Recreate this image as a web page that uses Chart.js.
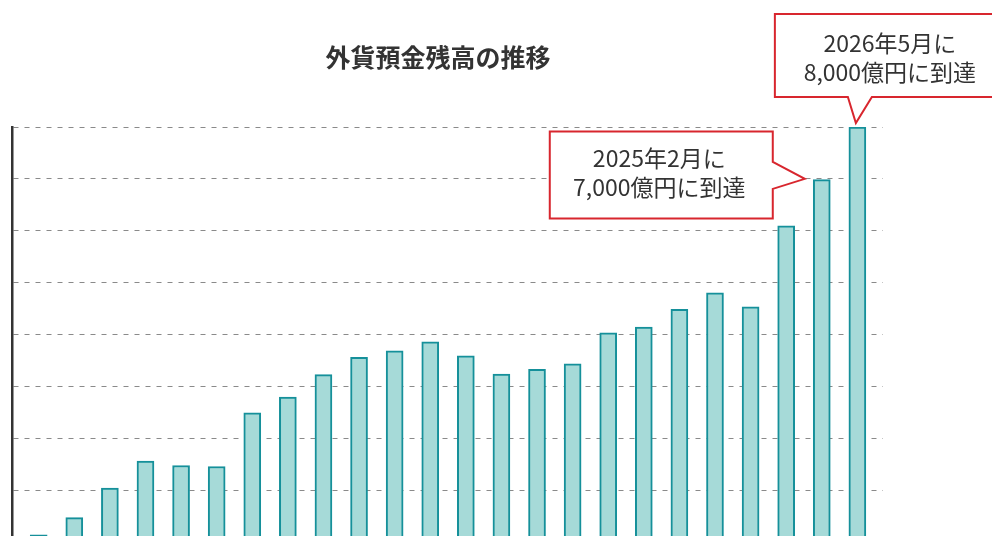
<!DOCTYPE html>
<html lang="ja">
<head>
<meta charset="utf-8">
<title>外貨預金残高の推移</title>
<script src="https://cdn.jsdelivr.net/npm/chart.js@4"></script>
<style>
  html, body { margin: 0; padding: 0; overflow: hidden; background: #fff; }
  #wrap { position: absolute; left: 0; top: 0; width: 992px; height: 560px; }
</style>
</head>
<body>
<div id="wrap"><canvas id="myChart"></canvas></div>
<script>
// 期間ラベル（図では下端が切れていて読めないものは空）
var periods = ['', '', '', '', '', '', '', '', '', '', '', '',
               '', '', '', '', '', '', '', '', '', '', '2025年2月', '2026年5月'];
// 外貨預金残高（億円）
var balance = [140, 470, 1040, 1560, 1475, 1455, 2490, 2795, 3225, 3560, 3685, 3860,
               3590, 3235, 3330, 3435, 4030, 4145, 4485, 4805, 4535, 6095, 6985, 8000];
var yTicks = [0, 1000, 2000, 3000, 4000, 5000, 6000, 7000, 8000];
var chartTitle = '外貨預金残高の推移';
// 吹き出し
var callouts = [
  { index: 22, level: 7000, lines: ['2025年2月に', '7,000億円に到達'] },
  { index: 23, level: 8000, lines: ['2026年5月に', '8,000億円に到達'] }
];

var red = '#d8262e';
var textColor = '#333333';
var font = '"Noto Sans CJK JP", "Noto Sans", sans-serif';

var points = balance.map(function (v, i) {
  return { x: i, y: v };
});

function calloutPath(ctx, pts) {
  ctx.beginPath();
  ctx.moveTo(pts[0][0], pts[0][1]);
  for (var i = 1; i < pts.length; i++) ctx.lineTo(pts[i][0], pts[i][1]);
  ctx.closePath();
  ctx.fillStyle = '#fff';
  ctx.fill();
  ctx.lineWidth = 2;
  ctx.strokeStyle = red;
  ctx.lineJoin = 'miter';
  ctx.stroke();
}

var annotate = {
  id: 'annotate',
  afterDraw: function (chart) {
    var ctx = chart.ctx;
    var xs = chart.scales.x, ys = chart.scales.y;
    ctx.save();

    // title
    ctx.fillStyle = textColor;
    ctx.font = 'bold 25px ' + font;
    ctx.textAlign = 'center';
    ctx.textBaseline = 'middle';
    ctx.fillText(chartTitle, 438, 57);

    // callout 1 : pointer on the right side
    var c1 = callouts[0];
    var tx = xs.getPixelForValue(c1.index) - 17;
    var ty = ys.getPixelForValue(c1.level);
    var R = tx - 32, L = R - 223, T = ty - 47.5, B = ty + 39.5;
    calloutPath(ctx, [[L, T], [R, T], [R, ty - 17], [tx, ty], [R, ty + 10], [R, B], [L, B]]);
    ctx.fillStyle = textColor;
    ctx.font = '23px ' + font;
    ctx.fillText(c1.lines[0], (L + R) / 2 - 2, ty - 21);
    ctx.fillText(c1.lines[1], (L + R) / 2 - 2, ty + 8.5);

    // callout 2 : pointer at the bottom
    var c2 = callouts[1];
    tx = xs.getPixelForValue(c2.index) - 1.5;
    ty = ys.getPixelForValue(c2.level) - 4;
    L = tx - 81; R = L + 235; T = 14; B = ty - 26;
    calloutPath(ctx, [[L, T], [R, T], [R, B], [tx + 16, B], [tx, ty], [tx - 8, B], [L, B]]);
    ctx.fillStyle = textColor;
    ctx.fillText(c2.lines[0], tx + 34, 43);
    ctx.fillText(c2.lines[1], tx + 34, 72.5);

    ctx.restore();
  }
};

var ctx = document.getElementById('myChart').getContext('2d');
var myChart = new Chart(ctx, {
  type: 'bar',
  data: {
    labels: periods,
    datasets: [{
      label: '外貨預金残高',
      data: points,
      backgroundColor: '#a6dad8',
      borderColor: '#15909a',
      borderWidth: 2,
      barThickness: 17
    }]
  },
  options: {
    responsive: true,
    maintainAspectRatio: false,
    animation: false,
    layout: { padding: { top: 127, left: 12, right: 109, bottom: 18 } },
    plugins: {
      legend: { display: false },
      tooltip: { enabled: false }
    },
    scales: {
      x: {
        type: 'linear',
        min: -0.75,
        max: 23.72,
        offset: false,
        display: false
      },
      y: {
        min: 0,
        max: 8000,
        afterBuildTicks: function (axis) {
          axis.ticks = yTicks.map(function (v) { return { value: v }; });
        },
        ticks: { display: false },
        grid: { color: '#8a8a8a', lineWidth: 1, drawTicks: false },
        border: { display: true, color: '#333333', width: 2.5, dash: [5, 6] }
      }
    }
  },
  plugins: [annotate]
});
</script>
</body>
</html>
